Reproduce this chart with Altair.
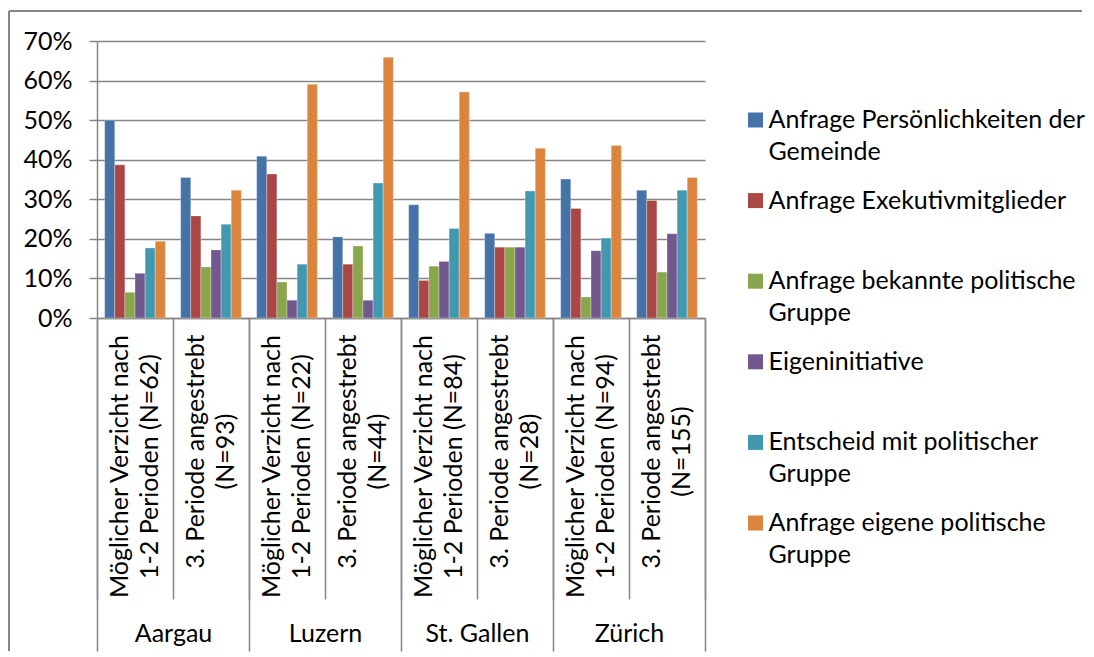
import altair as alt
import pandas as pd

FONT = "Lato"
FS = 25
GRAY = "#868686"

kantone = ["Aargau", "Luzern", "St. Gallen", "Zürich"]
gruppen = [
    "Möglicher Verzicht nach|1-2 Perioden (N=62)",
    "3. Periode angestrebt|(N=93)",
    "Möglicher Verzicht nach|1-2 Perioden (N=22)",
    "3. Periode angestrebt|(N=44)",
    "Möglicher Verzicht nach|1-2 Perioden (N=84)",
    "3. Periode angestrebt|(N=28)",
    "Möglicher Verzicht nach|1-2 Perioden (N=94)",
    "3. Periode angestrebt|(N=155)",
]
kategorien = [
    "Anfrage Persönlichkeiten der Gemeinde",
    "Anfrage Exekutivmitglieder",
    "Anfrage bekannte politische Gruppe",
    "Eigeninitiative",
    "Entscheid mit politischer Gruppe",
    "Anfrage eigene politische Gruppe",
]
legende_zeile1 = [
    "Anfrage Persönlichkeiten der",
    "Anfrage Exekutivmitglieder",
    "Anfrage bekannte politische",
    "Eigeninitiative",
    "Entscheid mit politischer",
    "Anfrage eigene politische",
]
legende_zeile2 = ["Gemeinde", "", "Gruppe", "", "Gruppe", "Gruppe"]
farben = ["#4572A7", "#AA4643", "#89A54E", "#71588F", "#4198AF", "#DB843D"]

# percentages per group (order of gruppen)
persoenlichkeiten = [50.0, 35.5, 40.9, 20.5, 28.6, 21.4, 35.1, 32.3]
exekutiv = [38.7, 25.8, 36.4, 13.6, 9.5, 17.9, 27.7, 29.7]
bekannte_gruppe = [6.5, 12.9, 9.1, 18.2, 13.1, 17.9, 5.3, 11.6]
eigeninitiative = [11.3, 17.2, 4.5, 4.5, 14.3, 17.9, 17.0, 21.3]
entscheid = [17.7, 23.7, 13.6, 34.1, 22.6, 32.1, 20.2, 32.3]
eigene_gruppe = [19.4, 32.3, 59.1, 65.9, 57.1, 42.9, 43.6, 35.5]

reihen = [persoenlichkeiten, exekutiv, bekannte_gruppe, eigeninitiative, entscheid, eigene_gruppe]
rows = []
for kat, werte in zip(kategorien, reihen):
    for g, w in zip(gruppen, werte):
        rows.append({"gruppe": g, "kategorie": kat, "pct": w})
df = pd.DataFrame(rows)
kdf = pd.DataFrame({"kanton": kantone})
ldf = pd.DataFrame({"kategorie": kategorien, "z1": legende_zeile1, "z2": legende_zeile2})

color = alt.Color("kategorie:N", sort=kategorien,
                  scale=alt.Scale(domain=kategorien, range=farben), legend=None)

bars = alt.Chart(df).transform_calculate(
    wert="datum.pct / 100"
).mark_bar(stroke="#ffffff", strokeWidth=0.6, strokeOpacity=0.5).encode(
    x=alt.X("gruppe:N", sort=gruppen,
            scale=alt.Scale(paddingInner=0, paddingOuter=0),
            axis=alt.Axis(title=None, orient="bottom", domain=True, domainColor=GRAY,
                          domainWidth=1.5, ticks=True, tickBand="extent", tickSize=281,
                          tickColor=GRAY, tickWidth=1.5, labelAngle=270, labelAlign="center",
                          labelBaseline="middle",
                          labelPadding={"condition": {"test": "indexof(datum.label, 'Möglicher') >= 0",
                                                      "value": -133},
                                        "value": -148},
                          labelOffset=-16,
                          labelExpr="indexof(datum.label, '|') >= 0 ? split(datum.label, '|') : ''",
                          labelFont=FONT, labelFontSize=FS, labelColor="#000000",
                          labelLineHeight=30, labelLimit=0, labelOverlap=False,
                          labelBound=False, grid=False)),
    xOffset=alt.XOffset("kategorie:N", sort=kategorien,
                        scale=alt.Scale(paddingInner=0, paddingOuter=0.76)),
    y=alt.Y("wert:Q", scale=alt.Scale(domain=[0, 0.7], nice=False, zero=True),
            axis=alt.Axis(title=None, format=".0%", values=[0, 0.1, 0.2, 0.3, 0.4, 0.5, 0.6, 0.7],
                          tickSize=8, tickColor=GRAY, tickWidth=1.5, domainColor=GRAY,
                          domainWidth=1.5, labelPadding=17, labelFont=FONT, labelFontSize=25,
                          labelColor="#000000", grid=True, gridColor=GRAY, gridWidth=1.5)),
    color=color,
)

kanton_axis = alt.Chart(kdf).mark_rule(opacity=0).encode(
    x=alt.X("kanton:N", sort=kantone,
            scale=alt.Scale(paddingInner=0, paddingOuter=0),
            axis=alt.Axis(title=None, orient="bottom", domain=False, ticks=True,
                          tickBand="extent", tickSize=333, tickColor=GRAY, tickWidth=1.5,
                          labelAngle=0, labelAlign="center", labelBaseline="middle",
                          labelPadding=-18, labelFont=FONT, labelFontSize=FS,
                          labelColor="#000000", labelLimit=0, grid=False)),
)

frame_left = alt.Chart(kdf).mark_rule(color=GRAY, strokeWidth=1.5).encode(
    x=alt.value(-88), y=alt.value(-30), y2=alt.value(610)
)
frame_top = alt.Chart(kdf).mark_rule(color=GRAY, strokeWidth=1.5).encode(
    x=alt.value(-88), x2=alt.value(985), y=alt.value(-30)
)

main = alt.layer(bars, kanton_axis, frame_left, frame_top).resolve_scale(
    x="independent"
).properties(width=608, height=277)

leg_y = alt.Y("kategorie:N", sort=kategorien, axis=None, scale=alt.Scale(padding=0.98))
leg_sq = alt.Chart(ldf).mark_square(size=225, opacity=1).encode(
    x=alt.value(16.5), y=leg_y, color=color
)
leg_t1 = alt.Chart(ldf).mark_text(align="left", baseline="middle", font=FONT,
                                  fontSize=FS, color="#000000").encode(
    x=alt.value(29.5), y=leg_y, text="z1:N"
)
leg_t2 = alt.Chart(ldf).mark_text(align="left", baseline="middle", font=FONT,
                                  fontSize=FS, color="#000000", dy=32).encode(
    x=alt.value(29.5), y=leg_y, text="z2:N"
)
legend = alt.layer(leg_sq, leg_t1, leg_t2).properties(width=300, height=561)

chart = alt.hconcat(main, legend, spacing=34, bounds="flush").properties(
    padding={"left": 0, "top": 2, "right": 0, "bottom": 0}
).configure(background="#ffffff").configure_view(strokeWidth=0, stroke="transparent")

chart.save("out.html", embed_options={"renderer": "svg", "actions": False})
